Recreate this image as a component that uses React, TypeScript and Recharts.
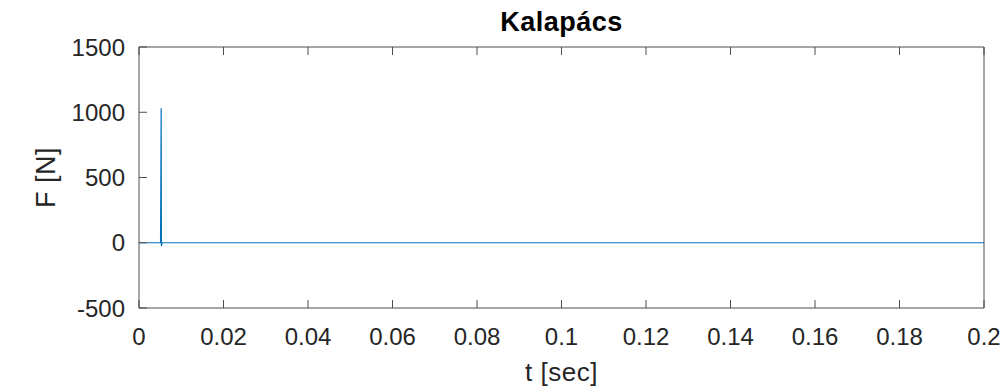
import { LineChart, Line, XAxis, YAxis, Label } from 'recharts';

const tValues = [0, 0.0051, 0.00525, 0.0053, 0.00535, 0.0055, 0.2];
const forceValues = [0, 0, 1030, -25, -15, 0, 0];
const xTicks = [0, 0.02, 0.04, 0.06, 0.08, 0.1, 0.12, 0.14, 0.16, 0.18, 0.2];
const yTicks = [-500, 0, 500, 1000, 1500];

const data = tValues.map((t, i) => ({ t, f: forceValues[i] }));

const TEXT = '#262626';
const LINE = '#4d4d4d';
const FONT = 'Liberation Sans, Arial, sans-serif';
const TICK = 8;

// MATLAB style ticks point into the plot box
function BottomTick({ x, y, payload }: any) {
  const axisY = y - 20;
  return (
    <g>
      <line x1={x} x2={x} y1={axisY} y2={axisY - TICK} stroke={LINE} />
      <text x={x} y={y} dy="0.71em" textAnchor="middle" fontSize={24} fontFamily={FONT} fill={TEXT}>
        {String(payload.value)}
      </text>
    </g>
  );
}

function LeftTick({ x, y, payload }: any) {
  const axisX = x + 14;
  return (
    <g>
      <line x1={axisX} x2={axisX + TICK} y1={y} y2={y} stroke={LINE} />
      <text x={x} y={y} dy="0.355em" textAnchor="end" fontSize={24} fontFamily={FONT} fill={TEXT}>
        {String(payload.value)}
      </text>
    </g>
  );
}

function TopTick({ x, y }: any) {
  return <line x1={x} x2={x} y1={y} y2={y + TICK} stroke={LINE} />;
}

function RightTick({ x, y }: any) {
  return <line x1={x} x2={x - TICK} y1={y} y2={y} stroke={LINE} />;
}

export default function App() {
  return (
    <div style={{ position: 'absolute', left: 0, top: 0, width: 1006, height: 390, background: '#fff' }}>
      <LineChart
        width={1006}
        height={390}
        data={data}
        margin={{ top: 46, right: 21, bottom: 10, left: 39 }}
      >
        <XAxis
          dataKey="t"
          type="number"
          domain={[0, 0.2]}
          ticks={xTicks}
          interval={0}
          height={72}
          stroke={LINE}
          tickLine={false}
          tickSize={0}
          tickMargin={20}
          tick={<BottomTick />}
        >
          <Label
            content={({ viewBox }: any) => (
              <text
                x={viewBox.x + viewBox.width / 2}
                y={viewBox.y + 73}
                textAnchor="middle"
                fontSize={26}
                letterSpacing={0.5}
                fontFamily={FONT}
                fill={TEXT}
              >
                t [sec]
              </text>
            )}
          />
        </XAxis>
        <XAxis
          xAxisId="top"
          orientation="top"
          dataKey="t"
          type="number"
          domain={[0, 0.2]}
          ticks={xTicks}
          interval={0}
          height={1}
          stroke={LINE}
          tickLine={false}
          tickSize={0}
          tickMargin={0}
          tick={<TopTick />}
        >
          <Label
            content={({ viewBox }: any) => (
              <text
                x={viewBox.x + viewBox.width / 2}
                y={31}
                textAnchor="middle"
                fontSize={27}
                letterSpacing={0.5}
                fontWeight="bold"
                fontFamily={FONT}
                fill="#000"
              >
                Kalapács
              </text>
            )}
          />
        </XAxis>
        <YAxis
          type="number"
          domain={[-500, 1500]}
          ticks={yTicks}
          interval={0}
          width={100}
          stroke={LINE}
          tickLine={false}
          tickSize={0}
          tickMargin={14}
          tick={<LeftTick />}
        >
          <Label
            content={({ viewBox }: any) => (
              <text
                x={55}
                y={viewBox.y + viewBox.height / 2}
                textAnchor="middle"
                fontSize={27}
                letterSpacing={0.5}
                fontFamily={FONT}
                fill={TEXT}
                transform={`rotate(-90, 55, ${viewBox.y + viewBox.height / 2})`}
              >
                F [N]
              </text>
            )}
          />
        </YAxis>
        <YAxis
          yAxisId="right"
          orientation="right"
          type="number"
          domain={[-500, 1500]}
          ticks={yTicks}
          interval={0}
          width={1}
          stroke={LINE}
          tickLine={false}
          tickSize={0}
          tickMargin={0}
          tick={<RightTick />}
        />
        <Line
          type="linear"
          dataKey="f"
          stroke="#0072BD"
          strokeWidth={1.2}
          dot={false}
          isAnimationActive={false}
        />
      </LineChart>
    </div>
  );
}
